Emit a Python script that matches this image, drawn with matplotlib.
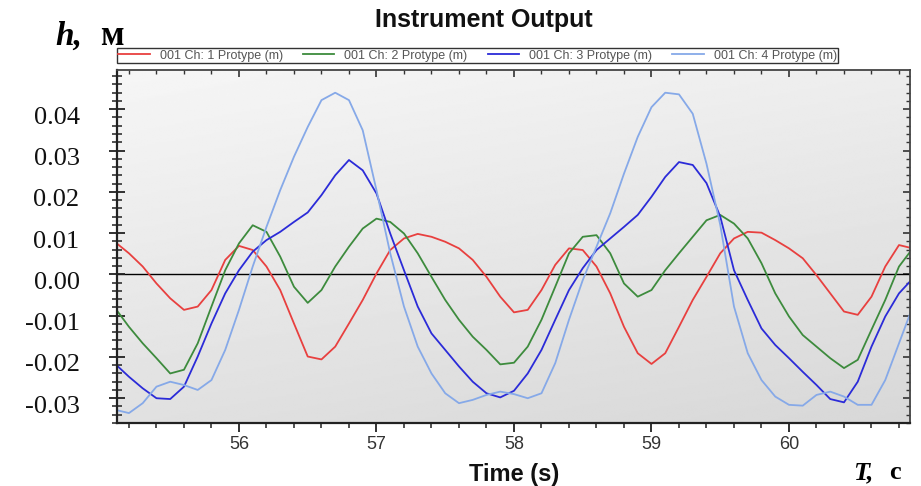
import numpy as np
import matplotlib
matplotlib.use("Agg")
import matplotlib.pyplot as plt
from matplotlib.ticker import FixedLocator, MultipleLocator, FixedFormatter
from matplotlib.transforms import ScaledTranslation

# ---------------- data ----------------
time_s = [55.1, 55.2, 55.3, 55.4, 55.5, 55.6, 55.7, 55.8, 55.9, 56.0,
          56.1, 56.2, 56.3, 56.4, 56.5, 56.6, 56.7, 56.8, 56.9, 57.0,
          57.1, 57.2, 57.3, 57.4, 57.5, 57.6, 57.7, 57.8, 57.9, 58.0,
          58.1, 58.2, 58.3, 58.4, 58.5, 58.6, 58.7, 58.8, 58.9, 59.0,
          59.1, 59.2, 59.3, 59.4, 59.5, 59.6, 59.7, 59.8, 59.9, 60.0,
          60.1, 60.2, 60.3, 60.4, 60.5, 60.6, 60.7, 60.8, 60.9]

ch1 = [0.0078, 0.0051, 0.0019, -0.0022, -0.0058, -0.0086, -0.0078, -0.0038, 0.0035, 0.0069,
       0.0059, 0.0019, -0.0038, -0.0119, -0.0199, -0.0206, -0.0175, -0.0119, -0.0062, 0.0002,
       0.0059, 0.0087, 0.0098, 0.0091, 0.0079, 0.0063, 0.0035, -0.0006, -0.0054, -0.0092,
       -0.0086, -0.0038, 0.0023, 0.0063, 0.0059, 0.0019, -0.0046, -0.0127, -0.0191, -0.0217,
       -0.0191, -0.0127, -0.0062, -0.0006, 0.0051, 0.0087, 0.0103, 0.0101, 0.0083, 0.0063,
       0.0039, -0.0002, -0.0046, -0.0090, -0.0098, -0.0054, 0.0019, 0.0071, 0.0063]

ch2 = [-0.0082, -0.0127, -0.0167, -0.0203, -0.0240, -0.0231, -0.0167, -0.0078, 0.0010, 0.0075,
       0.0119, 0.0103, 0.0043, -0.0030, -0.0069, -0.0038, 0.0019, 0.0067, 0.0111, 0.0135,
       0.0127, 0.0099, 0.0051, -0.0006, -0.0062, -0.0110, -0.0151, -0.0183, -0.0218, -0.0214,
       -0.0175, -0.0110, -0.0030, 0.0051, 0.0091, 0.0095, 0.0051, -0.0022, -0.0054, -0.0038,
       0.0010, 0.0051, 0.0091, 0.0131, 0.0144, 0.0123, 0.0087, 0.0027, -0.0046, -0.0102,
       -0.0147, -0.0175, -0.0203, -0.0227, -0.0207, -0.0134, -0.0062, 0.0019, 0.0063]

ch3 = [-0.0217, -0.0248, -0.0276, -0.0300, -0.0302, -0.0272, -0.0199, -0.0119, -0.0046, 0.0010,
       0.0055, 0.0083, 0.0103, 0.0127, 0.0150, 0.0192, 0.0240, 0.0277, 0.0252, 0.0196,
       0.0099, 0.0010, -0.0078, -0.0143, -0.0183, -0.0223, -0.0260, -0.0288, -0.0298, -0.0282,
       -0.0240, -0.0183, -0.0110, -0.0038, 0.0015, 0.0059, 0.0087, 0.0115, 0.0144, 0.0188,
       0.0236, 0.0272, 0.0265, 0.0221, 0.0140, 0.0010, -0.0062, -0.0131, -0.0171, -0.0203,
       -0.0236, -0.0268, -0.0302, -0.0310, -0.0260, -0.0175, -0.0102, -0.0046, -0.0010]

ch4 = [-0.0328, -0.0336, -0.0312, -0.0272, -0.0260, -0.0268, -0.0280, -0.0256, -0.0183, -0.0086,
       0.0019, 0.0115, 0.0204, 0.0285, 0.0357, 0.0422, 0.0440, 0.0422, 0.0349, 0.0204,
       0.0051, -0.0078, -0.0175, -0.0240, -0.0288, -0.0312, -0.0304, -0.0292, -0.0284, -0.0290,
       -0.0300, -0.0288, -0.0215, -0.0110, -0.0014, 0.0067, 0.0148, 0.0244, 0.0333, 0.0405,
       0.0440, 0.0436, 0.0389, 0.0268, 0.0120, -0.0078, -0.0191, -0.0256, -0.0296, -0.0316,
       -0.0318, -0.0292, -0.0284, -0.0296, -0.0316, -0.0316, -0.0256, -0.0167, -0.0078]

series_labels = ["001 Ch: 1 Protype (m)", "001 Ch: 2 Protype (m)",
                 "001 Ch: 3 Protype (m)", "001 Ch: 4 Protype (m)"]
series_colors = ["#e8403f", "#3d8b3d", "#2b2bd8", "#86a9e8"]

x_ticks = [56, 57, 58, 59, 60]
x_tick_labels = ["56", "57", "58", "59", "60"]
y_ticks = [-0.03, -0.02, -0.01, 0.0, 0.01, 0.02, 0.03, 0.04]
y_tick_labels = ["-0.03", "-0.02", "-0.01", "0.00", "0.01", "0.02", "0.03", "0.04"]

title_text = "Instrument Output"
xlabel_text = "Time (s)"

# ---------------- figure ----------------
W, H = 921, 486
fig = plt.figure(figsize=(W / 100, H / 100), dpi=100)
fig.patch.set_facecolor("white")

ax_l, ax_r, ax_t, ax_b = 117, 910, 70, 423
pos = [ax_l / W, 1 - ax_b / H, (ax_r - ax_l) / W, (ax_b - ax_t) / H]

# gradient background panel
bg = fig.add_axes(pos, zorder=0)
yy, xx = np.mgrid[0:1:200j, 0:1:200j]
grad = 0.965 - 0.085 * yy - 0.035 * xx
bg.imshow(grad, cmap="gray", vmin=0, vmax=1, aspect="auto",
          extent=[0, 1, 0, 1], origin="upper", interpolation="bilinear")
bg.set_axis_off()

ax = fig.add_axes(pos, zorder=1)
ax.patch.set_alpha(0)

ax.axhline(0, color="black", lw=1.0, zorder=1)
handles = []
for vals, col, lab in zip([ch1, ch2, ch3, ch4], series_colors, series_labels):
    ln, = ax.plot(time_s, vals, color=col, lw=1.3, label=lab, zorder=2)
    handles.append(ln)

ax.set_xlim(55.113, 60.88)
ax.set_ylim(-0.0360, 0.0495)

# spines
for s in ["left", "bottom"]:
    ax.spines[s].set_color("#222222")
    ax.spines[s].set_linewidth(1.6)
for s in ["top", "right"]:
    ax.spines[s].set_color("#444444")
    ax.spines[s].set_linewidth(1.3)

# x ticks
ax.xaxis.set_major_locator(FixedLocator(x_ticks))
ax.xaxis.set_major_formatter(FixedFormatter(x_tick_labels))
ax.xaxis.set_minor_locator(MultipleLocator(0.2))
ax.tick_params(axis="x", which="major", direction="out", length=6.5, width=1.3,
               color="#222222", labelsize=13, labelcolor="#333333", pad=3,
               labelfontfamily="Liberation Sans")
ax.tick_params(axis="x", which="minor", direction="out", length=3.5, width=1.1,
               color="#222222")

# y ticks
ax.yaxis.set_major_locator(FixedLocator(y_ticks))
ax.yaxis.set_major_formatter(FixedFormatter(y_tick_labels))
ax.yaxis.set_minor_locator(MultipleLocator(0.002))
ax.tick_params(axis="y", which="major", direction="inout", length=12, width=1.3,
               color="#222222", labelsize=19, labelcolor="#111111", pad=21,
               labelfontfamily="Liberation Serif")
ax.tick_params(axis="y", which="minor", direction="inout", length=7, width=1.1,
               color="#222222")
offset = ScaledTranslation(0, -0.06, fig.dpi_scale_trans)
for lbl in ax.get_yticklabels():
    lbl.set_transform(lbl.get_transform() + offset)

# top / right ticks (inward)
secx = ax.secondary_xaxis("top")
secx.xaxis.set_major_locator(FixedLocator(x_ticks))
secx.xaxis.set_minor_locator(MultipleLocator(0.2))
secx.tick_params(which="major", direction="in", length=5, width=1.2, color="#333333",
                 labeltop=False)
secx.tick_params(which="minor", direction="in", length=3, width=1.0, color="#333333")
secx.spines["top"].set_visible(False)

secy = ax.secondary_yaxis("right")
secy.yaxis.set_major_locator(FixedLocator(y_ticks))
secy.yaxis.set_minor_locator(MultipleLocator(0.002))
secy.tick_params(which="major", direction="in", length=5, width=1.2, color="#333333",
                 labelright=False)
secy.tick_params(which="minor", direction="in", length=3, width=1.0, color="#333333")
secy.spines["right"].set_visible(False)

# legend
leg_h = 13
leg = ax.legend(handles=handles, labels=series_labels, loc="lower left",
                bbox_to_anchor=(0, (ax_b - 63) / (ax_b - ax_t), 721 / (ax_r - ax_l),
                                leg_h / (ax_b - ax_t)),
                mode="expand", ncol=4, frameon=True, fancybox=False,
                edgecolor="#333333", facecolor="white", framealpha=1,
                borderpad=0.1, handlelength=2.5, handletextpad=0.8,
                columnspacing=0.6, borderaxespad=0,
                prop={"family": "Liberation Sans", "size": 9})
leg.get_frame().set_linewidth(1.0)
for t in leg.get_texts():
    t.set_color("#555555")

# titles and labels
fig.text(484 / W, 1 - 20 / H, title_text, ha="center", va="center",
         fontsize=18, fontweight="bold", family="Liberation Sans", color="#111111")
fig.text(514 / W, 1 - 481 / H, xlabel_text, ha="center", va="baseline",
         fontsize=17, fontweight="bold", family="Liberation Sans", color="#111111")

fig.text(55 / W, 1 - 45 / H, "h,", ha="left", va="baseline", fontsize=24,
         fontweight="bold", fontstyle="italic", family="Liberation Serif", color="black")
fig.text(100 / W, 1 - 45 / H, "м", ha="left", va="baseline", fontsize=25,
         fontweight="bold", family="Liberation Serif", color="black")

fig.text(853 / W, 1 - 479 / H, "T,", ha="left", va="baseline", fontsize=19,
         fontweight="bold", fontstyle="italic", family="Liberation Serif", color="black")
fig.text(889 / W, 1 - 479 / H, "с", ha="left", va="baseline", fontsize=19,
         fontweight="bold", family="Liberation Serif", color="black")

fig.savefig("out.png", dpi=100)
